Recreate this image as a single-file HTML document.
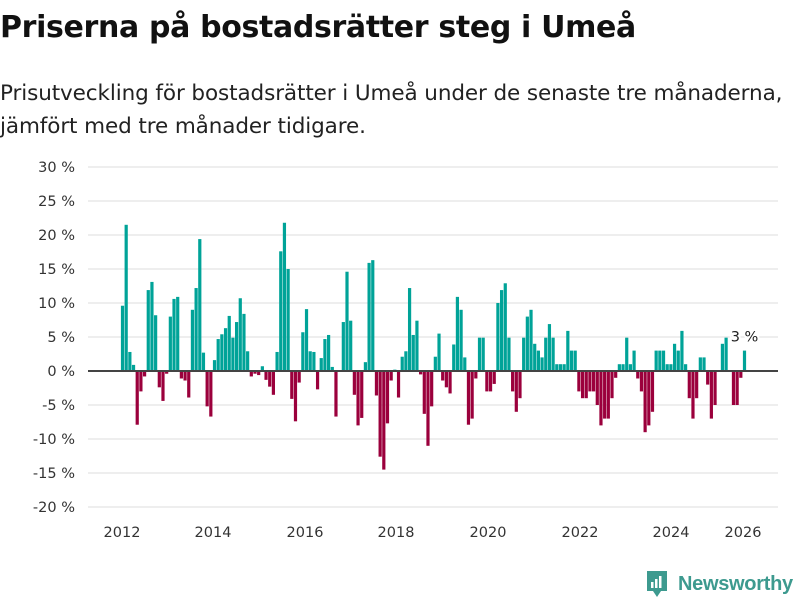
<!DOCTYPE html>
<html><head><meta charset="utf-8"><style>
body{margin:0;background:#fff;width:800px;height:600px;overflow:hidden;font-family:"DejaVu Sans","Liberation Sans",sans-serif}
h1{position:absolute;left:0;top:10px;margin:0;font-size:30px;font-weight:bold;color:#111;letter-spacing:-0.35px;white-space:nowrap}
p.sub{position:absolute;left:0;top:77px;margin:0;font-size:21.5px;line-height:33px;color:#222;white-space:nowrap;letter-spacing:-0.1px}
svg{position:absolute;left:0;top:0}
</style></head><body>
<h1>Priserna på bostadsrätter steg i Umeå</h1>
<p class="sub">Prisutveckling för bostadsrätter i Umeå under de senaste tre månaderna,<br>jämfört med tre månader tidigare.</p>
<svg id="chart" width="800" height="600"></svg>
<script>
const yTicks=[30,25,20,15,10,5,0,-5,-10,-15,-20];
const xLabels=["2012","2014","2016","2018","2020","2022","2024","2026"];
const xLabelPos=[122,213,305,396,488,580,671,743];
const values=[9.6,21.5,2.8,0.9,-7.9,-3.0,-0.8,11.9,13.1,8.2,-2.4,-4.4,-0.4,8.0,10.6,10.9,-1.1,-1.4,-3.9,9.0,12.2,19.4,2.7,-5.2,-6.7,1.6,4.7,5.4,6.3,
8.1,4.9,7.2,10.7,8.4,2.9,-0.8,-0.4,-0.6,0.7,-1.3,-2.3,-3.5,2.8,17.6,21.8,15.0,-4.1,-7.4,-1.7,5.7,9.1,2.9,2.8,-2.7,1.9,4.7,5.3,
0.6,-6.7,0.1,7.2,14.6,7.4,-3.5,-8.0,-6.9,1.3,15.9,16.3,-3.6,-12.6,-14.5,-7.7,-1.4,0.2,-3.9,2.1,2.9,12.2,5.3,7.4,-0.5,-6.3,-11.0,-5.2,2.1,
5.5,-1.4,-2.4,-3.3,3.9,10.9,9.0,2.0,-7.9,-7.0,-1.1,4.9,4.9,-3.0,-3.0,-1.9,10.0,11.9,12.9,4.9,-3.0,-6.0,-4.0,4.9,8.0,9.0,4.0,3.0,
2.0,4.9,6.9,4.9,1.0,1.0,1.0,5.9,3.0,3.0,-3.0,-4.0,-4.0,-3.0,-3.0,-5.0,-8.0,-7.0,-7.0,-4.0,-1.0,1.0,1.0,4.9,1.0,3.0,-1.1,-3.0,
-9.0,-8.0,-6.0,3.0,3.0,3.0,1.0,1.0,4.0,3.0,5.9,1.0,-4.0,-7.0,-4.0,2.0,2.0,-2.0,-7.0,-5.0,0,4.0,4.9,0,-5.0,-5.0,-1.0,3.0];
const lastLabel="3 %";

const svg=document.getElementById('chart');
const NS='http://www.w3.org/2000/svg';
const FONT='DejaVu Sans, Liberation Sans, sans-serif';
function y(v){return 371-v*6.8;}
const x0=122.5,x1=744.5;
function x(i){return x0+i*(x1-x0)/(values.length-1);}
function mk(t,a){const e=document.createElementNS(NS,t);for(const k in a)e.setAttribute(k,a[k]);svg.appendChild(e);return e;}
yTicks.forEach(v=>{
 const g=mk('line',{x1:88,x2:778,y1:y(v),y2:y(v),stroke:'#dedede','stroke-width':1});
 
 
 const t=mk('text',{x:75,y:y(v)+5,'text-anchor':'end','font-size':14.5,fill:'#333','font-family':FONT});
 t.textContent=v+' %';
 
 
});
values.forEach((v,i)=>{
 const r=mk('rect',{x:x(i)-1.6,width:3.2,y:Math.min(y(v),y(0)),height:Math.abs(y(v)-y(0)),fill:v>=0?'#00a398':'#9b003c'});
 
 
});
const z=mk('line',{x1:88,x2:778,y1:y(0),y2:y(0),stroke:'#444','stroke-width':2});


xLabels.forEach((l,i)=>{
 const t=mk('text',{x:xLabelPos[i],y:537,'text-anchor':'middle','font-size':14.5,fill:'#333','font-family':FONT});
 t.textContent=l;
 
 
});
const n=values.length-1;
const lt=mk('text',{x:x(n),y:y(values[n])-9,'text-anchor':'middle','font-size':14.5,fill:'#222',stroke:'#fff','stroke-width':4,'paint-order':'stroke','font-family':FONT});
lt.textContent=lastLabel;


</script>
<div style="position:absolute;left:645px;top:569px;display:flex;align-items:center">
<svg width="24" height="30" viewBox="0 0 24 30" style="position:static"><path d="M2 2h20v20h-6l-4 6-4-6H2z" fill="#3d9a8f"/><rect x="6" y="13" width="2.5" height="6" fill="#fff"/><rect x="10" y="10" width="2.5" height="9" fill="#fff"/><rect x="14" y="7" width="2.5" height="12" fill="#fff"/></svg>
<span style="margin-left:9px;font-family:'Liberation Sans',sans-serif;font-size:20px;font-weight:bold;color:#3d9a8f;letter-spacing:-0.3px">Newsworthy</span>
</div>
</body></html>
